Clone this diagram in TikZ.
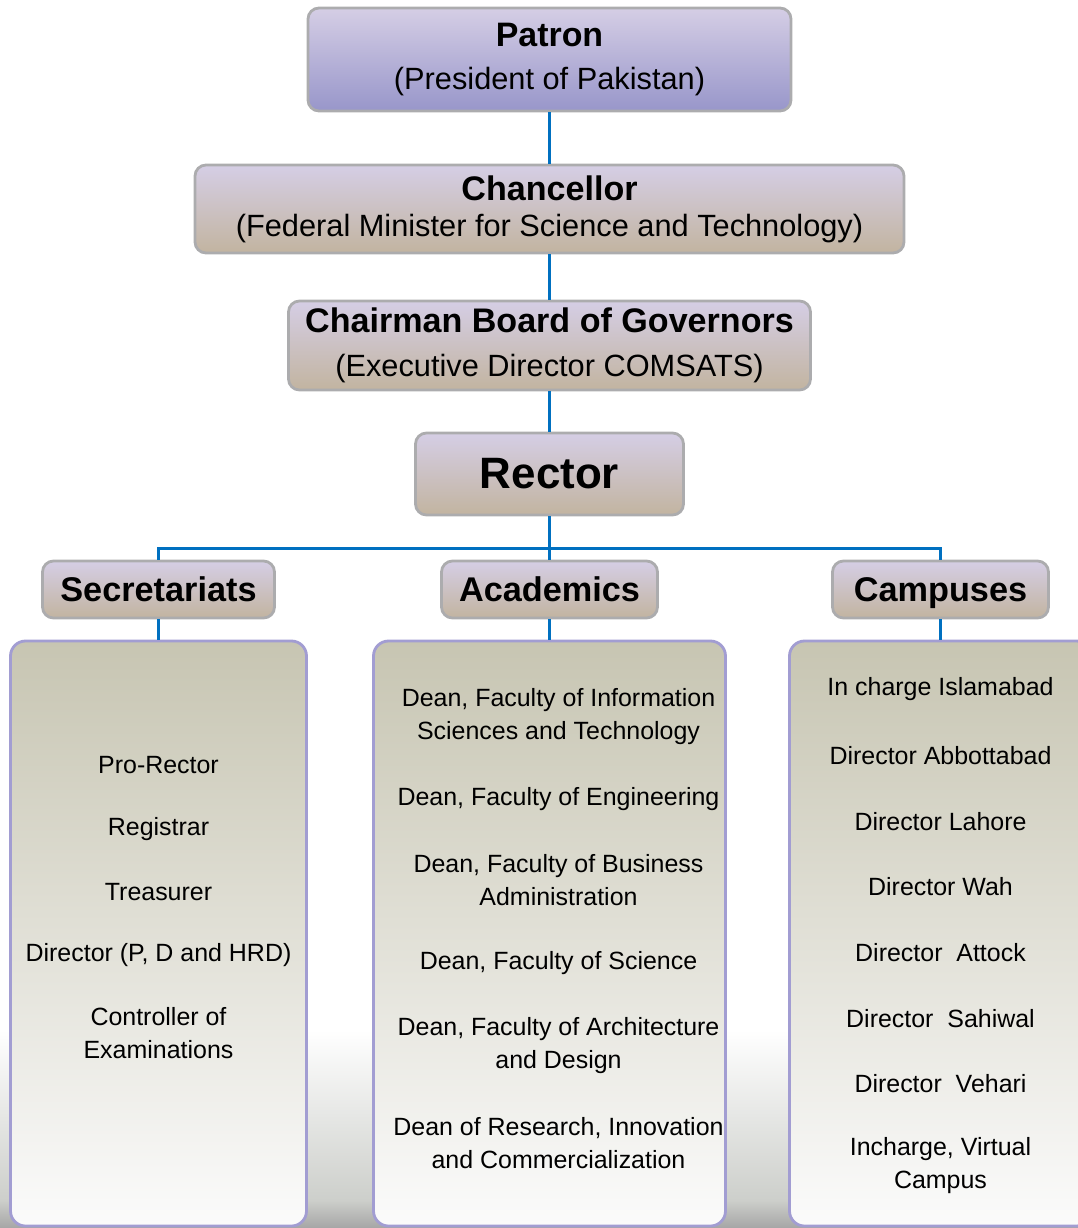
\documentclass[tikz,border=0pt]{standalone}
\usepackage{fontspec}
\setmainfont{Liberation Sans}
\usepackage{tikz}
\usepackage{xcolor}
\usetikzlibrary{arrows.meta, positioning}

\definecolor{linkblue}{RGB}{0,112,192}
\definecolor{lavtop}{RGB}{213,206,229}
\definecolor{patronbot}{RGB}{152,150,202}
\definecolor{tanbot}{RGB}{194,180,160}
\definecolor{boxline}{RGB}{172,172,174}
\definecolor{listtop}{RGB}{199,197,178}
\definecolor{listbot}{RGB}{251,251,251}
\definecolor{listline}{RGB}{162,157,210}
\definecolor{photogray}{RGB}{205,207,203}

\begin{document}
\begin{tikzpicture}[on grid, auto,
  topbox/.style={rectangle, rounded corners=0.22cm, draw=boxline, line width=1.6pt, top color=lavtop, bottom color=tanbot, align=center, inner sep=0pt, font=\fontsize{17.5}{23}\selectfont},
  headbox/.style={topbox, minimum height=1.14cm, text height=15pt, text depth=1pt, font=\fontsize{19.5}{23}\selectfont\bfseries},
  listbox/.style={rectangle, rounded corners=0.3cm, draw=listline, line width=1.6pt, top color=listtop, bottom color=listbot, minimum height=11.7cm},
  item/.style={align=center, inner sep=0pt, font=\fontsize{14.2}{18.8}\selectfont},
  link/.style={draw=linkblue, line width=1.7pt}]

    \useasboundingbox (0,0) rectangle (21.56,-24.56);
    \clip (0,0) rectangle (21.56,-24.56);
    % faint photo at the bottom
    \fill[top color=white, bottom color=photogray] (0,-20.6) rectangle (21.56,-24.0);
    \fill[top color=photogray, bottom color=gray!70] (0,-24.0) rectangle (21.56,-24.56);

    \node[topbox, bottom color=patronbot, minimum width=9.66cm, minimum height=2.06cm, font=\fontsize{17.5}{25}\selectfont] (patron) at (10.99,-1.19) {{\fontsize{19.3}{23}\selectfont\bfseries Patron}\\(President of Pakistan)};
    \node[topbox, below=2.99cm of patron, minimum width=14.18cm, minimum height=1.76cm, font=\fontsize{17.5}{20.5}\selectfont] (chancellor) {{\fontsize{19.4}{21}\selectfont\bfseries Chancellor}\\(Federal Minister for Science and Technology)};
    \node[topbox, below=2.73cm of chancellor, minimum width=10.44cm, minimum height=1.78cm, font=\fontsize{17.5}{25}\selectfont] (chairman) {{\fontsize{19.4}{23}\selectfont\bfseries Chairman Board of Governors}\\(Executive Director COMSATS)};
    \node[topbox, below=2.57cm of chairman, minimum width=5.36cm, minimum height=1.64cm, font=\fontsize{25}{28}\selectfont\bfseries] (rector) {Rector};

    \node[headbox, below=2.31cm of rector, minimum width=4.32cm] (academics) {Academics};
    \node[headbox, left=7.82cm of academics, minimum width=4.64cm] (secretariats) {Secretariats};
    \node[headbox, right=7.82cm of academics, minimum width=4.32cm] (campuses) {Campuses};

    \node[listbox, below=6.88cm of secretariats, minimum width=5.92cm] (seclist) {};
    \node[listbox, below=6.88cm of academics, minimum width=7.04cm] (acalist) {};
    \node[listbox, below=6.88cm of campuses, minimum width=6.04cm] (camlist) {};

    % secretariats
    \node[item, below=2.33cm of seclist.north] (prorector) {Pro-Rector};
    \node[item, below=1.27cm of prorector] (registrar) {Registrar};
    \node[item, below=1.26cm of registrar] (treasurer) {Treasurer};
    \node[item, below=1.26cm of treasurer] (directorp) {Director (P, D and HRD)};
    \node[item, below=1.56cm of directorp] (controller) {Controller of\\Examinations};

    % academics
    \node[item, below=0.96cm of acalist.north, xshift=0.18cm] (deaninfo) {Dean, Faculty of Information\\Sciences and Technology};
    \node[item, below=1.66cm of deaninfo] (deaneng) {Dean, Faculty of Engineering};
    \node[item, below=1.62cm of deaneng] (deanbus) {Dean, Faculty of Business\\Administration};
    \node[item, below=1.66cm of deanbus] (deansci) {Dean, Faculty of Science};
    \node[item, below=1.64cm of deansci] (deanarch) {Dean, Faculty of Architecture\\and Design};
    \node[item, below=1.96cm of deanarch] (deanres) {Dean of Research, Innovation\\and Commercialization};

    % campuses
    \node[item, below=0.75cm of camlist.north] (islamabad) {In charge Islamabad};
    \node[item, below=1.32cm of islamabad] (abbottabad) {Director Abbottabad};
    \node[item, below=1.32cm of abbottabad] (lahore) {Director Lahore};
    \node[item, below=1.30cm of lahore] (wah) {Director Wah};
    \node[item, below=1.32cm of wah] (attock) {Director\ \ Attock};
    \node[item, below=1.32cm of attock] (sahiwal) {Director\ \ Sahiwal};
    \node[item, below=1.30cm of sahiwal] (vehari) {Director\ \ Vehari};
    \node[item, below=1.64cm of vehari] (virtual) {Incharge, Virtual\\Campus};

    \coordinate[below=0.64cm of rector.south] (bar);

    \path[link]
    (patron) edge (chancellor)
    (chancellor) edge (chairman)
    (chairman) edge (rector)
    (rector.south) edge (bar)
    (bar) edge (academics.north)
    (secretariats.south) edge (seclist.north)
    (academics.south) edge (acalist.north)
    (campuses.south) edge (camlist.north)
    ;
    \draw[link] (bar) -| (secretariats.north);
    \draw[link] (bar) -| (campuses.north);

\end{tikzpicture}
\end{document}
